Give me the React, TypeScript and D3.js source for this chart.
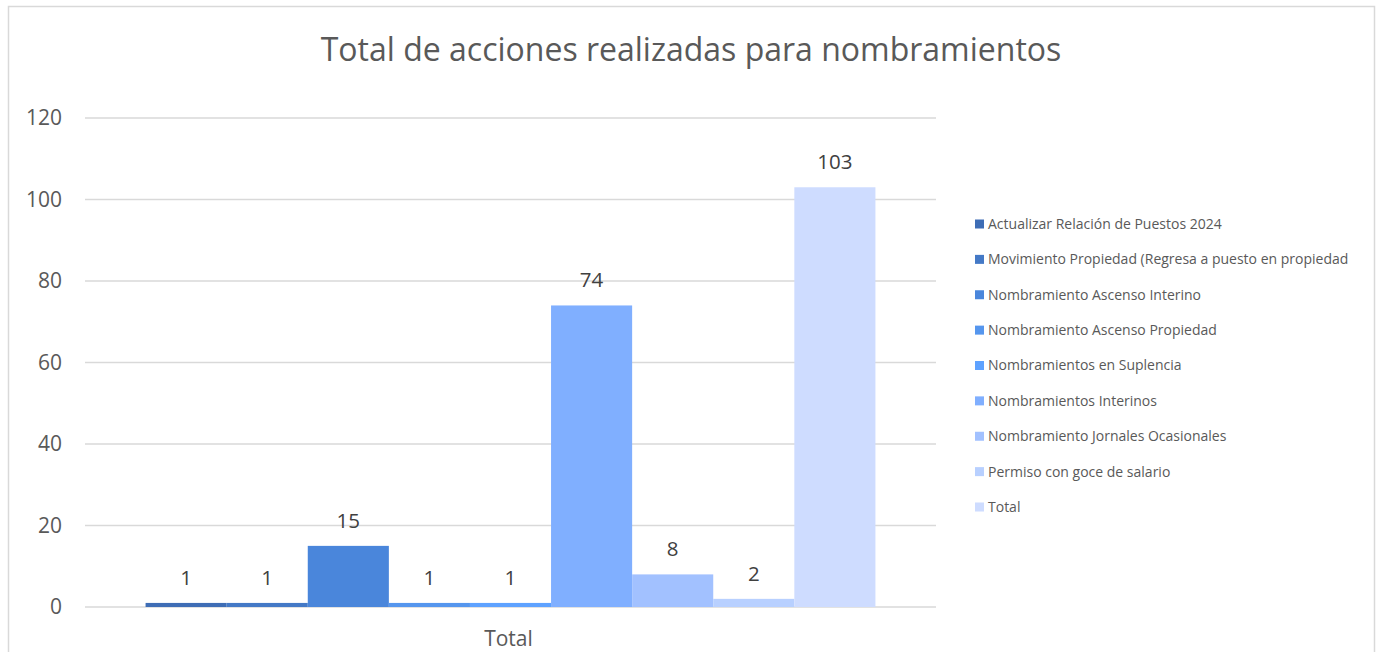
import React, { useEffect, useRef } from "react";
import * as d3 from "d3";

const categories = ["Total"];
const seriesNames = [
  "Actualizar Relación de Puestos 2024",
  "Movimiento Propiedad (Regresa a puesto en propiedad",
  "Nombramiento Ascenso Interino",
  "Nombramiento Ascenso Propiedad",
  "Nombramientos en Suplencia",
  "Nombramientos Interinos",
  "Nombramiento Jornales Ocasionales",
  "Permiso con goce de salario",
  "Total",
];
const seriesValues = [1, 1, 15, 1, 1, 74, 8, 2, 103];
const seriesColors = [
  "#3E6DB5",
  "#4479C6",
  "#4A86DB",
  "#5596EE",
  "#5EA2FF",
  "#80AFFF",
  "#A2C1FF",
  "#B8D0FF",
  "#CEDCFF",
];
const yTicks = [0, 20, 40, 60, 80, 100, 120];
const title = "Total de acciones realizadas para nombramientos";

const W = 1377;
const H = 652;
const FONT = "'Open Sans', 'Noto Sans', sans-serif";

export default function App() {
  const ref = useRef<SVGSVGElement>(null);

  useEffect(() => {
    const svg = d3.select(ref.current);
    svg.selectAll("*").remove();

    const plotLeft = 85;
    const plotRight = 936;
    const plotTop = 118;
    const plotBottom = 607;

    const y = d3.scaleLinear().domain([0, 120]).range([plotBottom, plotTop]);
    const x0 = d3
      .scaleBand<string>()
      .domain(categories)
      .range([plotLeft, plotRight])
      .paddingInner(0)
      .paddingOuter(0.083);
    const x1 = d3
      .scaleBand<string>()
      .domain(seriesNames)
      .range([0, x0.bandwidth()])
      .padding(0);

    // border
    svg
      .append("rect")
      .attr("x", 8.5)
      .attr("y", 6.5)
      .attr("width", 1366)
      .attr("height", 700)
      .attr("fill", "#fff")
      .attr("stroke", "#d9d9d9")
      .attr("stroke-width", 1.5);

    // title
    svg
      .append("text")
      .attr("x", 691)
      .attr("y", 61)
      .attr("text-anchor", "middle")
      .attr("font-family", FONT)
      .attr("font-size", 32)
      .attr("fill", "#595959")
      .text(title);

    // gridlines
    const g = svg.append("g");
    g.selectAll("line.grid")
      .data(yTicks)
      .enter()
      .append("line")
      .attr("x1", plotLeft)
      .attr("x2", plotRight)
      .attr("y1", (d) => y(d))
      .attr("y2", (d) => y(d))
      .attr("stroke", "#d9d9d9")
      .attr("stroke-width", 1.3);

    // y tick labels
    g.selectAll("text.ytick")
      .data(yTicks)
      .enter()
      .append("text")
      .attr("x", 62)
      .attr("y", (d) => y(d))
      .attr("dy", "0.35em")
      .attr("text-anchor", "end")
      .attr("font-family", FONT)
      .attr("font-size", 21)
      .attr("fill", "#595959")
      .text((d) => String(d));

    // bars
    categories.forEach((cat) => {
      const gx = x0(cat) ?? 0;
      const bars = svg.append("g").attr("transform", `translate(${gx},0)`);
      bars
        .selectAll("rect")
        .data(seriesNames.map((n, i) => ({ n, v: seriesValues[i], c: seriesColors[i] })))
        .enter()
        .append("rect")
        .attr("x", (d) => x1(d.n) ?? 0)
        .attr("width", x1.bandwidth())
        .attr("y", (d) => y(d.v))
        .attr("height", (d) => y(0) - y(d.v))
        .attr("fill", (d) => d.c);
      bars
        .selectAll("text")
        .data(seriesNames.map((n, i) => ({ n, v: seriesValues[i] })))
        .enter()
        .append("text")
        .attr("x", (d) => (x1(d.n) ?? 0) + x1.bandwidth() / 2)
        .attr("y", (d) => y(d.v) - 18)
        .attr("text-anchor", "middle")
        .attr("font-family", FONT)
        .attr("font-size", 20.5)
        .attr("fill", "#404040")
        .text((d) => String(d.v));

      svg
        .append("text")
        .attr("x", gx + x0.bandwidth() / 2 - 2)
        .attr("y", 646)
        .attr("text-anchor", "middle")
        .attr("font-family", FONT)
        .attr("font-size", 21)
        .attr("fill", "#595959")
        .text(cat);
    });

    // legend
    const legend = svg.append("g");
    const ly = d3
      .scalePoint<string>()
      .domain(seriesNames)
      .range([224, 507]);
    seriesNames.forEach((n, i) => {
      const yy = ly(n) ?? 0;
      legend
        .append("rect")
        .attr("x", 975)
        .attr("y", yy - 4.5)
        .attr("width", 9)
        .attr("height", 9)
        .attr("fill", seriesColors[i]);
      legend
        .append("text")
        .attr("x", 988)
        .attr("y", yy)
        .attr("dy", "0.35em")
        .attr("font-family", FONT)
        .attr("font-size", 14)
        .attr("fill", "#595959")
        .text(n);
    });
  }, []);

  return (
    <svg
      ref={ref}
      width={W}
      height={H}
      style={{ position: "fixed", left: 0, top: 0, background: "#fff" }}
    />
  );
}
